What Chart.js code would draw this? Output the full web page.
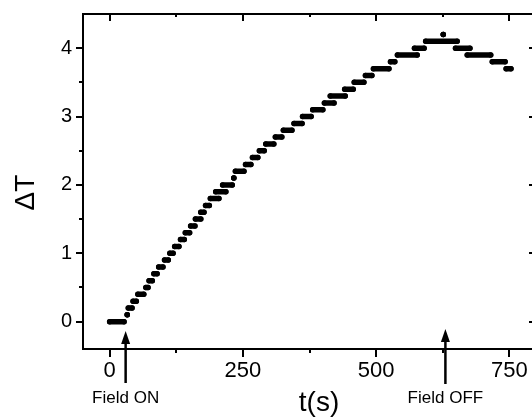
<!DOCTYPE html>
<html>
<head>
<meta charset="utf-8">
<script src="https://cdn.jsdelivr.net/npm/chart.js@4.4.1/dist/chart.umd.min.js"></script>
<style>
  html, body { margin: 0; padding: 0; background: #fff; overflow: hidden; }
  canvas { display: block; }
</style>
</head>
<body>
<canvas id="dtChart" width="550" height="418"></canvas>
<script>
// temperature steps: level, first and last time (s) it is held
const levelValues = [0.0, 0.1, 0.2, 0.3, 0.4, 0.5, 0.6, 0.7, 0.8, 0.9,
                     1.0, 1.1, 1.2, 1.3, 1.4, 1.5, 1.6, 1.7, 1.8, 1.9,
                     2.0, 2.1, 2.2, 2.3, 2.4, 2.5, 2.6, 2.7, 2.8, 2.9,
                     3.0, 3.1, 3.2, 3.3, 3.4, 3.5, 3.6, 3.7, 3.8, 3.9,
                     4.0, 4.1, 4.2, 4.0, 3.9, 3.8, 3.7];
const levelStart = [0, 33, 35, 44, 53, 68, 74, 83, 92, 103,
                    113, 122, 133, 142, 152, 161, 171, 180, 189, 199,
                    212, 233, 236, 255, 268, 281, 293, 311, 326, 346,
                    362, 381, 403, 414, 441, 459, 480, 495, 527, 540,
                    572, 593, 626, 649, 671, 718, 744];
const levelEnd = [27, 33, 42, 50, 64, 72, 80, 89, 100, 110,
                  119, 130, 140, 150, 160, 171, 177, 187, 205, 218,
                  230, 233, 252, 265, 278, 290, 308, 323, 342, 361,
                  378, 400, 421, 442, 457, 477, 492, 524, 535, 577,
                  590, 652, 626, 676, 715, 742, 753];

const xMajorTicks = [0, 250, 500, 750];
const xMinorTicks = [125, 375, 625];
const yMajorTicks = [0, 1, 2, 3, 4];
const yMinorTicks = [0.5, 1.5, 2.5, 3.5];

const fieldOnTime = 30;
const fieldOffTime = 630;

const points = [];
for (let i = 0; i < levelValues.length; i++) {
    points.push({ x: levelStart[i], y: levelValues[i] });
    points.push({ x: levelEnd[i], y: levelValues[i] });
    points.push({ x: levelEnd[i], y: null }); // break the line between steps
}

const FONT = '"Liberation Sans", Arial, sans-serif';

function drawArrow(ctx, x, tipY, baseY) {
    ctx.beginPath();
    ctx.moveTo(x, tipY + 10);
    ctx.lineTo(x, baseY);
    ctx.lineWidth = 2.5;
    ctx.stroke();
    ctx.beginPath();
    ctx.moveTo(x, tipY);
    ctx.lineTo(x - 4.5, tipY + 13);
    ctx.lineTo(x + 4.5, tipY + 13);
    ctx.closePath();
    ctx.fill();
}

const framePlugin = {
    id: 'frame',
    afterDraw(chart) {
        const ctx = chart.ctx;
        const a = chart.chartArea;
        const xs = chart.scales.x;
        const ys = chart.scales.y;
        ctx.save();
        ctx.strokeStyle = '#000';
        ctx.fillStyle = '#000';
        ctx.lineWidth = 2;
        ctx.strokeRect(a.left, a.top, a.right - a.left, a.bottom - a.top);

        ctx.beginPath();
        xMajorTicks.concat(xMinorTicks).forEach(v => {
            const px = Math.round(xs.getPixelForValue(v));
            const len = xMajorTicks.includes(v) ? 8 : 4;
            ctx.moveTo(px, a.bottom);
            ctx.lineTo(px, a.bottom + len);
            ctx.moveTo(px, a.top);
            ctx.lineTo(px, a.top + len - 1);
        });
        yMajorTicks.concat(yMinorTicks).forEach(v => {
            const py = Math.round(ys.getPixelForValue(v));
            const len = yMajorTicks.includes(v) ? 7 : 4;
            ctx.moveTo(a.left, py);
            ctx.lineTo(a.left - len, py);
            ctx.moveTo(a.right, py);
            ctx.lineTo(a.right - len, py);
        });
        ctx.stroke();

        // field on / off markers
        const onX = xs.getPixelForValue(fieldOnTime);
        const offX = xs.getPixelForValue(fieldOffTime);
        drawArrow(ctx, onX, 331, 383);
        drawArrow(ctx, offX, 329, 384);
        ctx.font = '17px ' + FONT;
        ctx.textAlign = 'center';
        ctx.textBaseline = 'alphabetic';
        ctx.fillText('Field ON', onX, 403);
        ctx.fillText('Field OFF', offX, 403);

        // axis titles
        ctx.font = '28px ' + FONT;
        ctx.fillText('t(s)', 319, 411);
        ctx.translate(33.5, 192.5);
        ctx.rotate(-Math.PI / 2);
        ctx.fillText('\u0394T', 0, 0);
        ctx.restore();
    }
};

const ctx = document.getElementById('dtChart').getContext('2d');
const dtChart = new Chart(ctx, {
    type: 'line',
    data: {
        datasets: [{
            label: 'dT',
            data: points,
            borderColor: '#000',
            backgroundColor: '#000',
            borderWidth: 5.5,
            borderCapStyle: 'round',
            pointRadius: 2.75,
            pointBorderWidth: 0,
            pointHoverRadius: 2.75,
            spanGaps: false,
            fill: false,
            tension: 0
        }]
    },
    options: {
        responsive: false,
        animation: false,
        devicePixelRatio: 1,
        layout: { padding: { top: 14, right: 14, left: 0, bottom: 0 } },
        plugins: { legend: { display: false }, tooltip: { enabled: false } },
        scales: {
            x: {
                type: 'linear',
                min: -50,
                max: 800,
                grid: { display: false, drawTicks: false },
                border: { display: false },
                ticks: {
                    stepSize: 125,
                    includeBounds: false,
                    autoSkip: false,
                    maxRotation: 0,
                    padding: 9,
                    color: '#000',
                    font: { family: FONT, size: 22 },
                    callback: v => (xMajorTicks.includes(v) ? String(v) : '')
                },
                afterFit: s => { s.height = 69; s.paddingLeft = 0; s.paddingRight = 0; }
            },
            y: {
                min: -0.4,
                max: 4.5,
                grid: { display: false, drawTicks: false },
                border: { display: false },
                ticks: {
                    stepSize: 0.5,
                    includeBounds: false,
                    autoSkip: false,
                    padding: 11,
                    color: '#000',
                    font: { family: FONT, size: 20 },
                    callback: v => (yMajorTicks.includes(v) ? String(v) : '')
                },
                afterFit: s => { s.width = 83; s.paddingTop = 0; s.paddingBottom = 0; }
            }
        }
    },
    plugins: [framePlugin]
});
</script>
</body>
</html>
